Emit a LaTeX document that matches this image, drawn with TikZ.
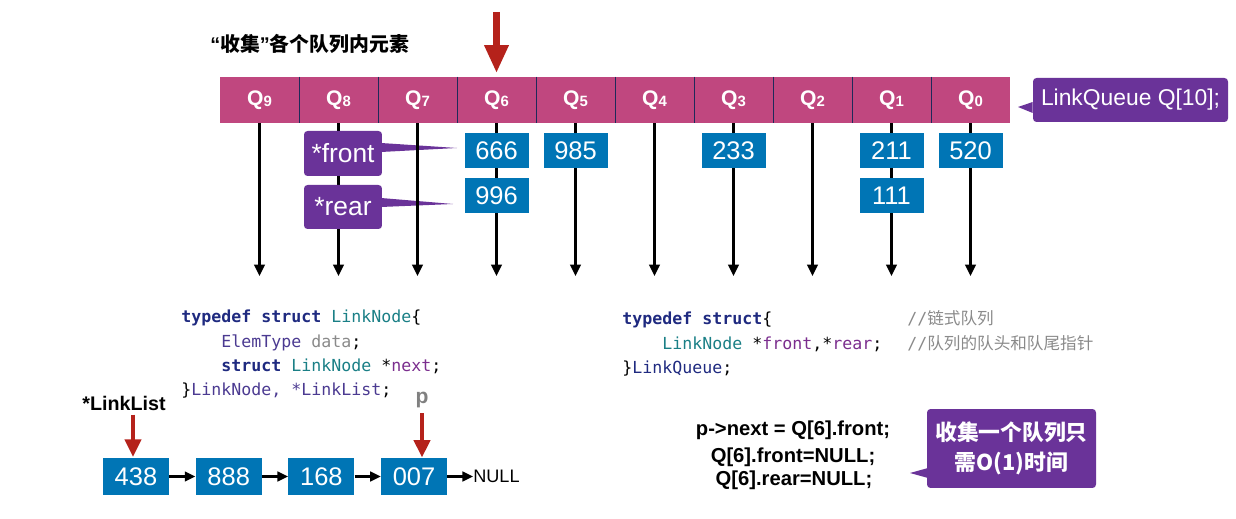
\documentclass[tikz,border=0pt]{standalone}
\usepackage{fontspec}
\setmainfont{Liberation Sans}
\setmonofont{DejaVu Sans Mono}
\newfontfamily\cjk{Noto Sans CJK SC}
\usetikzlibrary{arrows.meta,positioning}

\definecolor{qmag}{HTML}{C0477F}
\definecolor{qsep}{HTML}{1E2A5A}
\definecolor{valblue}{HTML}{0075B5}
\definecolor{calpur}{HTML}{6A3399}
\definecolor{redarr}{HTML}{B5221B}
\definecolor{kwnavy}{HTML}{1F2A80}
\definecolor{tyteal}{HTML}{1A7F86}
\definecolor{typur}{HTML}{4B3A91}
\definecolor{varpur}{HTML}{7B2E8E}
\definecolor{cmtgray}{HTML}{8A8A8A}

\newcommand{\qsub}[1]{Q\raisebox{-0.8pt}{\fontsize{8.5}{8.5}\selectfont #1}}% Q with index
\newcommand{\kw}[1]{\textcolor{kwnavy}{\bfseries #1}}
\newcommand{\ind}{\hphantom{0000}}

\tikzset{
  qcell/.style={fill=qmag, minimum width=1.58cm, minimum height=0.92cm,
    inner sep=0, text=white, font=\fontsize{12}{12}\selectfont\bfseries},
  qsepline/.style={qsep, line width=0.7pt},
  qval/.style={fill=valblue, minimum width=1.28cm, minimum height=0.7cm,
    inner sep=0, text=white, font=\fontsize{14.5}{14.5}\selectfont},
  lbox/.style={qval, minimum width=1.32cm, minimum height=0.74cm},
  callbox/.style={fill=calpur, rounded corners=2pt, text=white, inner sep=0},
  qline/.style={line width=1.3pt, -{Triangle[length=6.5pt,width=6pt]}},
  lnext/.style={line width=1.3pt, -{Triangle[length=6pt,width=5.5pt]}},
  bigred/.style={redarr, line width=4pt, -{Triangle[length=16pt,width=13pt]}},
  smallred/.style={redarr, line width=2.8pt, -{Triangle[length=10pt,width=9pt]}},
  code/.style={font=\ttfamily\fontsize{9.45}{9.45}\selectfont, anchor=base west, inner sep=0},
  cmt/.style={code, text=cmtgray},
  stmt/.style={font=\fontsize{11.5}{11.5}\selectfont\bfseries, anchor=base, inner sep=0},
}

\begin{document}
\begin{tikzpicture}[x=0.02cm,y=-0.02cm]
  \useasboundingbox (0,0) rectangle (1236,519);

  % title and the queue array
  \node[anchor=base west, inner sep=0, font=\fontsize{11.3}{11.3}\selectfont\bfseries]
    (title) at (210,52) {“{\cjk 收集}”{\cjk 各个队列内元素}};
  \foreach \i [count=\k from 0] in {9,...,0}
    \node[qcell] (q\i) at (259.5+79*\k,100) {\qsub{\i}};
  \foreach \i in {9,...,1}
    \draw[qsepline] (q\i.north east) -- (q\i.south east);

  \coordinate (pick) at (q6.north |- 0,12);
  \draw[bigred, shorten >=2pt] (pick) -- (q6.north);

  \node[callbox, minimum width=3.9cm, minimum height=0.88cm,
    font=\fontsize{13}{13}\selectfont] (lq) at (1130.5,100) {LinkQueue Q[10];};
  \coordinate (lqtip) at (1018,107);
  \fill[calpur] ([yshift=-0.04cm]lq.west) -- (lqtip) -- ([yshift=-0.26cm]lq.west) -- cycle;

  % pointers front / rear (wedges under the lines)
  \coordinate (fronttip) at (457,148);
  \coordinate (reartip) at (453,204);
  \fill[calpur] (381,143) -- (fronttip) -- (381,152) -- cycle;
  \fill[calpur] (381,198) -- (reartip) -- (381,207) -- cycle;

  % the ten lists
  \foreach \i in {9,...,0} {
    \coordinate (e\i) at (q\i.south |- 0,276);
    \draw[qline] (q\i.south) -- (e\i);
  }

  \node[callbox, minimum width=1.56cm, minimum height=0.9cm,
    font=\fontsize{15}{15}\selectfont] (front) at (343,153.5) {*front};
  \node[callbox, minimum width=1.56cm, minimum height=0.88cm,
    font=\fontsize{15}{15}\selectfont] (rear) at (343,207) {*rear};

  \node[qval] (v666) at (q6.south |- 0,150.5) {666};
  \node[qval] (v996) at (q6.south |- 0,195.5) {996};
  \node[qval] (v985) at (q5.south |- 0,150.5) {985};
  \node[qval] (v233) at (q3.south |- 0,150.5) {233};
  \node[qval] (v211) at (q1.south |- 0,150.5) {211};
  \node[qval] (v111) at (q1.south |- 0,195.5) {111};
  \node[qval] (v520) at (q0.south |- 0,150.5) {520};

  % type definitions
  \node[code] (ca) at (181,323) {\kw{typedef} \kw{struct} \textcolor{tyteal}{LinkNode}\{};
  \node[code] (cb) at (181,347.5) {\ind\textcolor{typur}{ElemType} \textcolor{cmtgray}{data};};
  \node[code] (cc) at (181,372) {\ind\kw{struct} \textcolor{tyteal}{LinkNode} *\textcolor{varpur}{next};};
  \node[code] (cd) at (181,396) {\}\textcolor{typur}{LinkNode, *LinkList};};

  \node[code] (da) at (622,325) {\kw{typedef} \kw{struct}\{};
  \node[code] (db) at (622,350) {\ind\textcolor{tyteal}{LinkNode} *\textcolor{varpur}{front},*\textcolor{varpur}{rear};};
  \node[code] (dc) at (622,374) {\}\textcolor{kwnavy}{LinkQueue};};
  \node[cmt] (ma) at (907,325) {//{\cjk 链式队列}};
  \node[cmt] (mb) at (907,350) {//{\cjk 队列的队头和队尾指针}};

  % the collected list
  \node[lbox] (n438) at (136,476.5) {438};
  \node[lbox, right=0.52cm of n438] (n888) {888};
  \node[lbox, right=0.52cm of n888] (n168) {168};
  \node[lbox, right=0.52cm of n168] (n007) {007};
  \node[anchor=west, inner sep=0, font=\fontsize{10.3}{10.3}\selectfont] (null) at (473,476.5) {NULL};
  \draw[lnext] (n438) -- (n888);
  \draw[lnext] (n888) -- (n168);
  \draw[lnext] (n168) -- (n007);
  \draw[lnext] (n007) -- (null);

  \node[anchor=base, inner sep=0, font=\fontsize{11.2}{11.2}\selectfont\bfseries]
    (ll) at (124,410.5) {*LinkList};
  \draw[smallred] ([yshift=-2pt]ll.south -| 133,0) -- (133,457);
  \node[anchor=base, inner sep=0, text=gray, font=\fontsize{12}{12}\selectfont\bfseries]
    (p) at (422,403.5) {p};
  \draw[smallred] ([yshift=-3pt]p.south) -- (p.south |- n007.north);

  \node[stmt] (sa) at (793,436) {p->next = Q[6].front;};
  \node[stmt] (sb) at (793,462) {Q[6].front=NULL;};
  \node[stmt] (sc) at (794,485) {Q[6].rear=NULL;};

  \node[callbox, minimum width=3.38cm, minimum height=1.58cm, align=center,
    font=\cjk\bfseries\fontsize{12.4}{17}\selectfont] (o1) at (1011.5,448.5)
    {收集一个队列只\\需O(1)时间};
  \coordinate (o1tip) at (910,473);
  \fill[calpur] (928,468) -- (o1tip) -- (928,478) -- cycle;
\end{tikzpicture}
\end{document}
